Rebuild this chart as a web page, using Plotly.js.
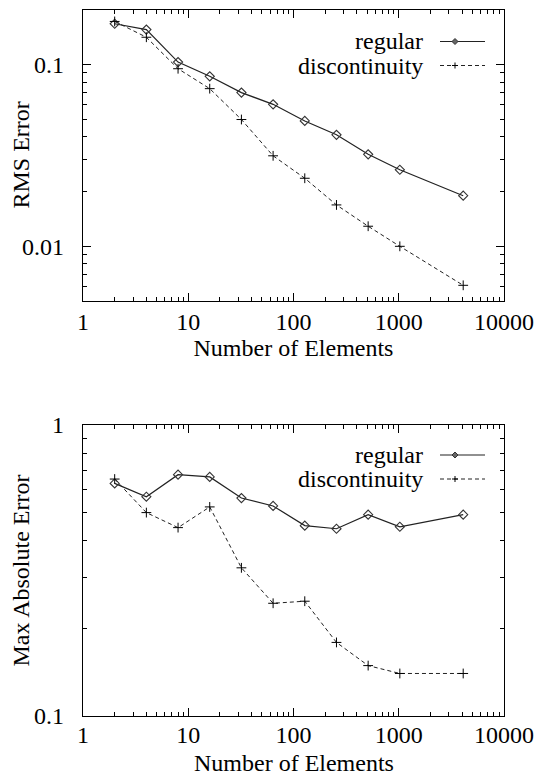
<!DOCTYPE html>
<html>
<head>
<meta charset="utf-8">
<script src="https://cdn.plot.ly/plotly-3.0.1.min.js"></script>
<style>html,body{margin:0;padding:0;background:#fff;}#chart{width:540px;height:774px;}</style>
</head>
<body>
<div id="chart"></div>
<script>
// ---- data ----
const elements = [2, 4, 8, 16, 32, 64, 128, 256, 512, 1024, 4096];
const rmsRegular = [0.168, 0.156, 0.1033, 0.0863, 0.0702, 0.0605, 0.049, 0.0411, 0.0321, 0.0264, 0.019];
const rmsDiscontinuity = [0.173, 0.1416, 0.095, 0.0738, 0.0499, 0.0315, 0.0237, 0.0169, 0.0129, 0.0100, 0.0061];
const maxRegular = [0.630, 0.567, 0.675, 0.663, 0.561, 0.527, 0.451, 0.440, 0.492, 0.447, 0.492];
const maxDiscontinuity = [0.652, 0.500, 0.444, 0.523, 0.323, 0.244, 0.248, 0.179, 0.149, 0.140, 0.140];
const seriesNames = ["regular", "discontinuity"];
const xTickVals = [1, 10, 100, 1000, 10000];
const xTickText = ["1", "10", "100", "1000", "10000"];
const rmsTickVals = [0.01, 0.1];
const rmsTickText = ["0.01", "0.1"];
const maxTickVals = [0.1, 1];
const maxTickText = ["0.1", "1"];
const xTitle = "Number of Elements";
const rmsTitle = "RMS Error";
const maxTitle = "Max Absolute Error";

// ---- helpers ----
function minorVals(lo, hi) {
  const out = [];
  for (let e = lo; e < hi; e++) {
    for (let k = 2; k <= 9; k++) out.push(k * Math.pow(10, e));
  }
  return out;
}
const FONT = "Liberation Serif";
const INK = "#000";
const W = 421, H = 706;            // plot-area size in px (for paper coords)
const px2x = p => (p - 83) / W;    // page px -> paper x
const px2y = p => (716 - p) / H;   // page px -> paper y

const regStyle = {mode: "lines+markers", line: {color: "#222", width: 1.2},
  marker: {symbol: "diamond-open", size: 7, color: "#333", line: {width: 1.1}}};
const disStyle = {mode: "lines+markers", line: {color: "#222", width: 1, dash: "4px,3px"},
  marker: {symbol: "cross-thin-open", size: 7, color: "#000", line: {width: 1}}};

const traces = [
  Object.assign({x: elements, y: rmsRegular, name: seriesNames[0], xaxis: "x", yaxis: "y"}, regStyle),
  Object.assign({x: elements, y: rmsDiscontinuity, name: seriesNames[1], xaxis: "x", yaxis: "y"}, disStyle),
  Object.assign({x: elements, y: maxRegular, name: seriesNames[0], xaxis: "x2", yaxis: "y2"}, regStyle),
  Object.assign({x: elements, y: maxDiscontinuity, name: seriesNames[1], xaxis: "x2", yaxis: "y2"}, disStyle)
];

function axisBase() {
  return {
    type: "log", showgrid: false, zeroline: false,
    showline: true, linecolor: INK, linewidth: 1.2, mirror: "allticks",
    ticks: "inside", ticklen: 8, tickwidth: 1, tickcolor: INK,
    tickmode: "array",
    tickfont: {family: FONT, size: 24, color: INK},
  };
}
function xAxis(anchor, withTitle, standoff) {
  const ax = Object.assign(axisBase(), {
    anchor: anchor, range: [0, 4], domain: [0, 1],
    tickvals: xTickVals, ticktext: xTickText,
    ticklabelstandoff: standoff,
    minor: {tickmode: "array", tickvals: minorVals(0, 4), ticks: "inside", ticklen: 4, tickcolor: INK, showgrid: false}
  });
  if (withTitle) ax.title = {text: xTitle, font: {family: FONT, size: 24, color: INK}, standoff: 0};
  return ax;
}
function yAxis(anchor, domain, range, vals, text, lo, hi) {
  return Object.assign(axisBase(), {
    anchor: anchor, domain: domain, range: range,
    tickvals: vals, ticktext: text,
    ticklabelstandoff: 13,
    minor: {tickmode: "array", tickvals: minorVals(lo, hi), ticks: "inside", ticklen: 4, tickcolor: INK, showgrid: false}
  });
}

// manual legend (text right-aligned, sample on the right, like gnuplot)
function legendItems(rowsPx) {
  const shapes = [], annos = [];
  const xText = px2x(425), x0 = px2x(440), x1 = px2x(485), xm = px2x(455);
  const dx = 3 / W, dy = 3 / H;
  rowsPx.forEach((p, i) => {
    const yy = px2y(p);
    annos.push({xref: "paper", yref: "paper", x: xText, y: yy, xanchor: "right", yanchor: "middle",
      text: seriesNames[i], showarrow: false, font: {family: FONT, size: 24, color: INK}});
    shapes.push({type: "line", xref: "paper", yref: "paper", x0: x0, x1: x1, y0: yy, y1: yy,
      line: {color: "#222", width: i === 0 ? 1.2 : 1, dash: i === 0 ? "solid" : "4px,3px"}});
    if (i === 0) {
      shapes.push({type: "path", xref: "paper", yref: "paper",
        path: `M ${xm - dx} ${yy} L ${xm} ${yy + dy} L ${xm + dx} ${yy} L ${xm} ${yy - dy} Z`,
        fillcolor: "#666", line: {color: "#333", width: 1}});
    } else {
      shapes.push({type: "line", xref: "paper", yref: "paper", x0: xm - dx, x1: xm + dx, y0: yy, y1: yy, line: {color: INK, width: 1}});
      shapes.push({type: "line", xref: "paper", yref: "paper", x0: xm, x1: xm, y0: yy - dy, y1: yy + dy, line: {color: INK, width: 1}});
    }
  });
  return {shapes, annos};
}
const legTop = legendItems([41.5, 65.5]);
const legBot = legendItems([455, 479]);

// axis titles placed precisely as annotations
const titleFont = {family: FONT, size: 24, color: INK};
const titleAnnos = [
  {xref: "paper", yref: "paper", x: px2x(21), y: px2y(155.5), textangle: -90, xanchor: "center", yanchor: "middle",
   text: rmsTitle, showarrow: false, font: titleFont},
  {xref: "paper", yref: "paper", x: px2x(20), y: px2y(570.5), textangle: -90, xanchor: "center", yanchor: "middle",
   text: maxTitle, showarrow: false, font: titleFont},
  {xref: "paper", yref: "paper", x: px2x(293.5), y: px2y(763), xanchor: "center", yanchor: "middle",
   height: 16, valign: "middle",
   text: xTitle, showarrow: false, font: titleFont}
];

const layout = {
  width: 540, height: 774,
  margin: {l: 83, r: 36, t: 10, b: 58},
  paper_bgcolor: "#fff", plot_bgcolor: "#fff",
  showlegend: false,
  font: {family: FONT, size: 24, color: INK},
  xaxis: xAxis("y", true, -1),
  yaxis: yAxis("x", [px2y(301), 1], [Math.log10(0.005), Math.log10(0.2)], rmsTickVals, rmsTickText, -3, 0),
  xaxis2: xAxis("y2", false, -3),
  yaxis2: yAxis("x2", [0, px2y(425)], [-1, 0], maxTickVals, maxTickText, -1, 0),
  shapes: legTop.shapes.concat(legBot.shapes),
  annotations: legTop.annos.concat(legBot.annos, titleAnnos)
};

Plotly.newPlot("chart", traces, layout, {displayModeBar: false, staticPlot: true});
</script>
</body>
</html>
